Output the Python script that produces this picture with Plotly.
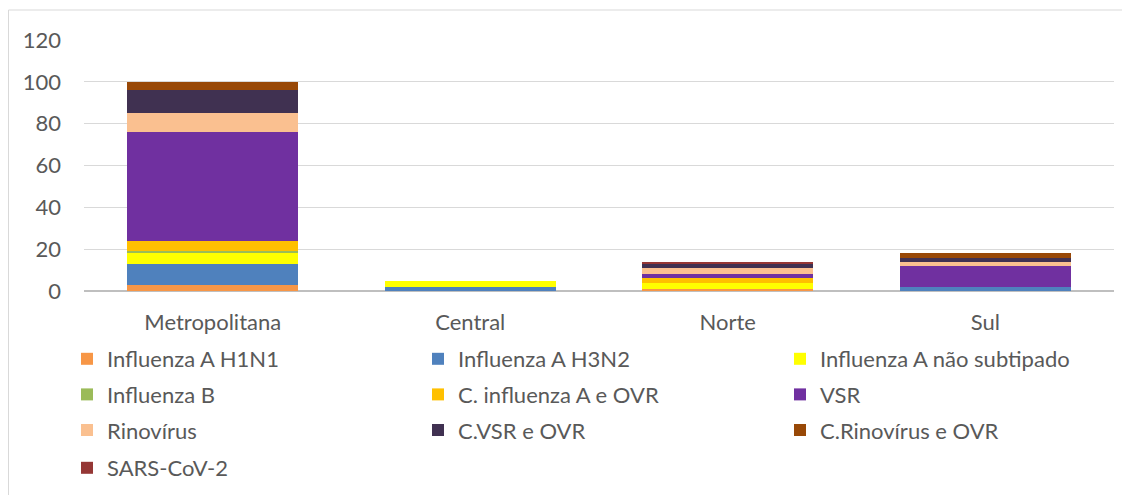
import plotly.graph_objects as go

regions = ["Metropolitana", "Central", "Norte", "Sul"]
series_names = [
    "Influenza A H1N1", "Influenza A H3N2", "Influenza A não subtipado",
    "Influenza B", "C. influenza A e OVR", "VSR",
    "Rinovírus", "C.VSR e OVR", "C.Rinovírus e OVR", "SARS-CoV-2",
]
h1n1 = [3, 0, 1, 0]
h3n2 = [10, 2, 0, 2]
a_nao_sub = [5, 3, 3, 0]
flu_b = [1, 0, 0, 0]
c_influenza = [5, 0, 2, 0]
vsr = [52, 0, 2, 10]
rinovirus = [9, 0, 3, 2]
c_vsr = [11, 0, 2, 2]
c_rino = [4, 0, 0, 2]
sars = [0, 0, 1, 0]
series_values = [h1n1, h3n2, a_nao_sub, flu_b, c_influenza, vsr, rinovirus, c_vsr, c_rino, sars]
colors = ["#F79646", "#4F81BD", "#FFFF00", "#9BBB59", "#FFC000",
          "#7030A0", "#FAC090", "#403151", "#984807", "#953735"]
y_ticks = [0, 20, 40, 60, 80, 100, 120]

# legend boxes: three columns for the first nine entries, a fourth box for the last row
legend_for = ["legend", "legend2", "legend3"] * 3 + ["legend4"]

FONT = "Lato, Carlito, Calibri, sans-serif"
GREY = "#595959"
FS = 22

fig = go.Figure()
for name, vals, col, lg in zip(series_names, series_values, colors, legend_for):
    fig.add_trace(go.Bar(
        x=regions, y=vals, name=name, marker=dict(color=col, line=dict(width=0)),
        legend=lg, legendgroup=name,
    ))

# page body has an 8px margin, so the figure is drawn at (8, 8)
W, H = 1122, 495
L, R, T, B = 76, 16, 32, 212
pw = W - L - R
ph = H - T - B

def legend_cfg(x_px, top_px):
    return dict(
        x=(x_px - L) / pw, xanchor="left", y=(H - B - top_px) / ph, yanchor="top",
        orientation="v", traceorder="grouped", tracegroupgap=4,
        font=dict(family=FONT, size=FS, color=GREY),
        bgcolor="rgba(0,0,0,0)", itemwidth=30,
    )

top_y = 1 + (T - 2) / ph
fig.update_layout(
    width=W, height=H,
    margin=dict(l=L, r=R, t=T, b=B),
    barmode="stack", bargap=0.335,
    plot_bgcolor="white", paper_bgcolor="white",
    font=dict(family=FONT, size=FS, color=GREY),
    legend=legend_cfg(59, 330),
    legend2=legend_cfg(410, 330),
    legend3=legend_cfg(772, 330),
    legend4=legend_cfg(59, 439),
    showlegend=True,
    xaxis=dict(showgrid=False, showline=False, ticks="", ticklabelstandoff=16,
               tickfont=dict(family=FONT, size=FS, color=GREY)),
    yaxis=dict(range=[0, 120], tickvals=y_ticks, showgrid=True, gridcolor="#D9D9D9",
               gridwidth=1, zeroline=True, zerolinecolor="#BFBFBF", zerolinewidth=2,
               showline=False, ticks="", ticklabelstandoff=22,
               tickfont=dict(family=FONT, size=FS, color=GREY)),
    shapes=[
        dict(type="line", xref="paper", yref="paper",
             x0=(0.5 - L) / pw, x1=(0.5 - L) / pw, y0=-(B / ph), y1=top_y,
             line=dict(color="#D9D9D9", width=1)),
        dict(type="line", xref="paper", yref="paper",
             x0=(0.5 - L) / pw, x1=1 + R / pw, y0=top_y, y1=top_y,
             line=dict(color="#D9D9D9", width=1)),
    ],
)

fig.write_html("out.html")
